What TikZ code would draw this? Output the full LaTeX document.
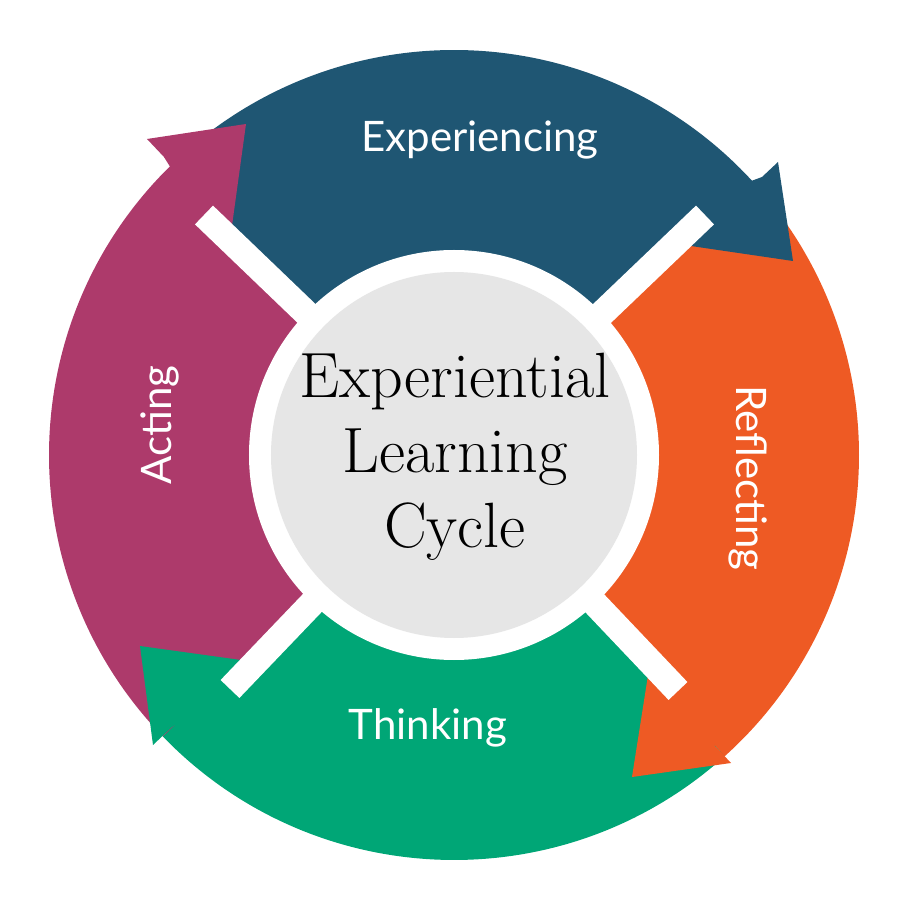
\documentclass[tikz,border=0pt]{standalone}
\usepackage{fontspec}
\newfontfamily\lab{Lato}
\definecolor{cblue}{HTML}{1F5673}
\definecolor{cred}{HTML}{EE5A24}
\definecolor{cgreen}{HTML}{00A676}
\definecolor{cmag}{HTML}{AD3A6B}
\definecolor{cgrey}{HTML}{E6E6E6}
\begin{document}
\begin{tikzpicture}[x=1pt,y=1pt,
  lbl/.style={text=white,font=\lab\fontsize{42}{45}\selectfont},
  bar/.style={white,line width=26pt}]
\useasboundingbox (-454,-454) rectangle (446,455);
\coordinate (O) at (0,0);
% bands
\fill[cblue] (O) -- (134.2:405) arc[start angle=134.2,end angle=42.07,radius=405] -- (308,278) -- cycle;
\fill[cred] (O) -- (42.07:405) arc[start angle=42.07,end angle=-48.1,radius=405] -- (261,-291) -- cycle;
\fill[cgreen] (O) -- (-48.1:405) arc[start angle=-48.1,end angle=-135.96,radius=405] -- (-282,-272) -- cycle;
\fill[cmag] (O) -- (224.04:405) arc[start angle=224.04,end angle=134.2,radius=405] -- (-290,298) -- cycle;
% heads
\fill[cblue] (308,278) -- (324,293) -- (339,194) -- (196,215) -- (246,255) -- cycle;
\fill[cred] (261,-291) -- (277,-308) -- (178,-322) -- (198,-195) -- (236,-225) -- cycle;
\fill[cgreen] (-282,-272) -- (-301,-290) -- (-314,-191) -- (-206,-206) -- (-234,-245) -- cycle;
\fill[cmag] (-290,298) -- (-307,316) -- (-208,331) -- (-223,222) -- (-254,240) -- cycle;
% bars
\coordinate (b1) at (251,240);
\coordinate (b2) at (224,-236);
\coordinate (b3) at (-224,-234);
\coordinate (b4) at (-250,240);
\draw[bar] (O) -- (b1);
\draw[bar] (O) -- (b2);
\draw[bar] (O) -- (b3);
\draw[bar] (O) -- (b4);
% centre
\fill[white] (O) circle[radius=205];
\fill[cgrey] (O) circle[radius=183];
\node[align=center,font=\fontsize{64}{75}\selectfont] (c) at (1,-2) {Experiential\\Learning\\Cycle};
% labels
\node[lbl] (l1) at (26,315) {Experiencing};
\node[lbl,rotate=-90] (l2) at (294,-23) {Reflecting};
\node[lbl] (l3) at (-26,-273) {Thinking};
\node[lbl,rotate=90] (l4) at (-294,30) {Acting};
\end{tikzpicture}
\end{document}
